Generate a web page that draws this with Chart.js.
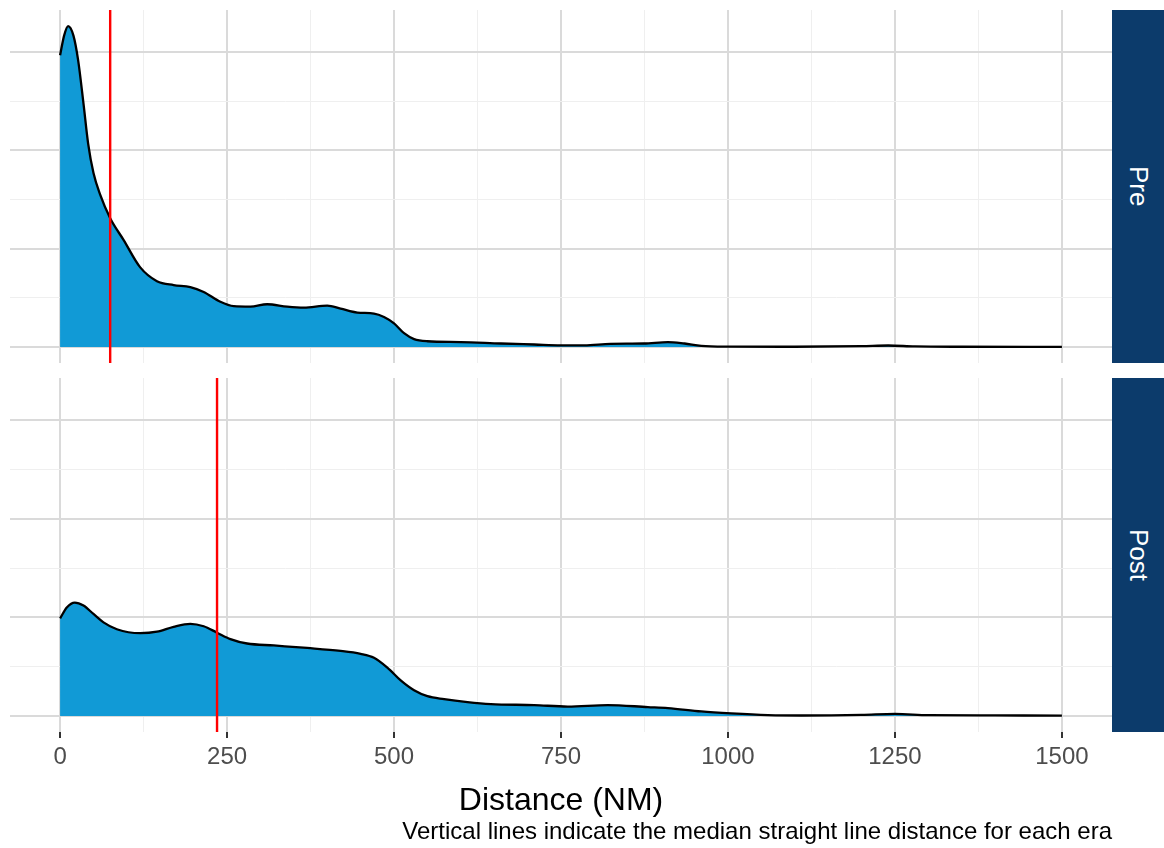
<!DOCTYPE html>
<html>
<head>
<meta charset="utf-8">
<title>Distance density by era</title>
<script src="https://cdn.jsdelivr.net/npm/chart.js@4.4.1/dist/chart.umd.min.js"></script>
<style>
  body {
    margin: 0;
    background: #fff;
    width: 1164px;
    height: 848px;
    position: relative;
    overflow: hidden;
    font-family: "Liberation Sans", Arial, sans-serif;
  }
  canvas { position: absolute; }
  .strip {
    position: absolute;
    left: 1112px;
    width: 52px;
    background: #0c3b6b;
    color: #fff;
    display: flex;
    align-items: center;
    justify-content: center;
    font-size: 26px;
  }
  .strip span { writing-mode: vertical-rl; }
  #caption {
    position: absolute;
    right: 52px;
    top: 817px;
    font-size: 24px;
    line-height: 28px;
    color: #000;
    white-space: nowrap;
  }
</style>
</head>
<body>
<canvas id="prePanel" width="1102" height="353" style="left:10px; top:10px;"></canvas>
<canvas id="postPanel" width="1102" height="442" style="left:10px; top:378px;"></canvas>
<div class="strip" id="preStrip" style="top:10px; height:353px;"><span></span></div>
<div class="strip" id="postStrip" style="top:378px; height:354px;"><span></span></div>
<div id="caption">Vertical lines indicate the median straight line distance for each era</div>

<script>
// facet labels and the median distance drawn as a red line in each facet
const eras = ['Pre', 'Post'];
const medianDistance = [75, 235];

// kernel density estimates (density x 1000) read along the distance axis
const preDistance = [0, 6, 12, 20, 27, 35, 42, 50, 60, 75, 95, 120, 145, 170, 195, 215, 240, 260, 285, 310, 340, 365, 400, 420, 445, 470, 485, 500, 515, 530, 550, 600, 660, 710, 750, 785, 824, 874, 910, 935, 960, 1000, 1100, 1200, 1240, 1280, 1350, 1500];
const preDensity = [2.97, 3.17, 3.267, 3.17, 2.92, 2.48, 2.07, 1.77, 1.55, 1.31, 1.09, 0.81, 0.67, 0.63, 0.61, 0.56, 0.46, 0.415, 0.41, 0.435, 0.41, 0.40, 0.42, 0.39, 0.35, 0.34, 0.305, 0.24, 0.14, 0.08, 0.058, 0.05, 0.035, 0.025, 0.017, 0.017, 0.032, 0.035, 0.05, 0.035, 0.012, 0.004, 0.002, 0.008, 0.015, 0.005, 0.002, 0.001];

const postDistance = [0, 10, 22, 35, 50, 65, 85, 120, 145, 170, 195, 215, 235, 255, 280, 320, 370, 420, 450, 470, 490, 510, 530, 550, 575, 610, 645, 710, 760, 820, 880, 910, 960, 1005, 1060, 1110, 1200, 1250, 1300, 1400, 1500];
const postDensity = [0.99, 1.10, 1.15, 1.12, 1.035, 0.95, 0.88, 0.84, 0.855, 0.905, 0.935, 0.91, 0.845, 0.78, 0.735, 0.715, 0.69, 0.66, 0.63, 0.59, 0.49, 0.36, 0.26, 0.20, 0.17, 0.14, 0.12, 0.11, 0.095, 0.11, 0.09, 0.08, 0.045, 0.025, 0.008, 0.004, 0.01, 0.02, 0.008, 0.005, 0.003];

// axis breaks
const xMajorTicks = [0, 250, 500, 750, 1000, 1250, 1500];
const xMinorTicks = [125, 375, 625, 875, 1125, 1375];
const yMajorTicks = [0, 1, 2, 3];
const yMinorTicks = [0.5, 1.5, 2.5];

const xSpan = xMajorTicks[xMajorTicks.length - 1] - xMajorTicks[0];
const xMin = xMajorTicks[0] - 0.05 * xSpan;
const xMax = xMajorTicks[xMajorTicks.length - 1] + 0.05 * xSpan;
const densityPeak = Math.max(...preDensity, ...postDensity);
const yMin = -0.05 * densityPeak;
const yMax = 1.05 * densityPeak;

const FONT = '"Liberation Sans", Arial, sans-serif';
const majorGrid = '#dadada';
const minorGrid = '#efefef';

function isMajorX(v) { return xMajorTicks.includes(v); }
function isMajorY(v) { return yMajorTicks.includes(v); }

function toPoints(xs, ys) {
    return xs.map((x, i) => ({ x: x, y: ys[i] }));
}

function buildPanel(canvasId, distance, density, median, showAxis) {
    const ctx = document.getElementById(canvasId).getContext('2d');

    return new Chart(ctx, {
        type: 'line',
        data: {
            datasets: [
                {
                    // median line spans the whole panel height
                    data: [{ x: median, y: yMin }, { x: median, y: yMax }],
                    borderColor: '#ff0000',
                    borderWidth: 2.4,
                    pointRadius: 0,
                    fill: false,
                    order: 0,
                },
                {
                    data: toPoints(distance, density),
                    borderColor: '#000000',
                    borderWidth: 2.3,
                    backgroundColor: '#119ad6',
                    fill: 'origin',
                    pointRadius: 0,
                    cubicInterpolationMode: 'monotone',
                    order: 1,
                },
            ],
        },
        options: {
            responsive: false,
            animation: false,
            events: [],
            layout: { padding: 0 },
            plugins: {
                legend: { display: false },
                tooltip: { enabled: false },
            },
            scales: {
                x: {
                    type: 'linear',
                    min: xMin,
                    max: xMax,
                    afterBuildTicks: (scale) => {
                        scale.ticks = [...xMajorTicks, ...xMinorTicks]
                            .sort((a, b) => a - b)
                            .map(v => ({ value: v }));
                    },
                    afterFit: (scale) => { scale.height = showAxis ? 88 : 0; },
                    border: { display: false },
                    grid: {
                        color: (c) => isMajorX(c.tick.value) ? majorGrid : minorGrid,
                        lineWidth: (c) => isMajorX(c.tick.value) ? 2 : 1,
                        drawTicks: showAxis,
                        tickLength: 6,
                        tickColor: (c) => isMajorX(c.tick.value) ? '#333333' : 'rgba(0,0,0,0)',
                        tickWidth: 2,
                    },
                    ticks: {
                        display: showAxis,
                        autoSkip: false,
                        maxRotation: 0,
                        padding: 5,
                        color: '#4d4d4d',
                        font: { family: FONT, size: 24 },
                        callback: (v) => isMajorX(v) ? String(v) : '',
                    },
                    title: {
                        display: showAxis,
                        text: 'Distance (NM)',
                        color: '#000000',
                        font: { family: FONT, size: 32 },
                        padding: { top: 0, bottom: 0 },
                    },
                },
                y: {
                    type: 'linear',
                    min: yMin,
                    max: yMax,
                    afterBuildTicks: (scale) => {
                        scale.ticks = [...yMajorTicks, ...yMinorTicks]
                            .sort((a, b) => a - b)
                            .map(v => ({ value: v }));
                    },
                    afterFit: (scale) => { scale.width = 0; },
                    border: { display: false },
                    grid: {
                        color: (c) => isMajorY(c.tick.value) ? majorGrid : minorGrid,
                        lineWidth: (c) => isMajorY(c.tick.value) ? 2 : 1,
                        drawTicks: false,
                    },
                    ticks: { display: false },
                },
            },
        },
    });
}

document.querySelector('#preStrip span').textContent = eras[0];
document.querySelector('#postStrip span').textContent = eras[1];

buildPanel('prePanel', preDistance, preDensity, medianDistance[0], false);
buildPanel('postPanel', postDistance, postDensity, medianDistance[1], true);
</script>
</body>
</html>
